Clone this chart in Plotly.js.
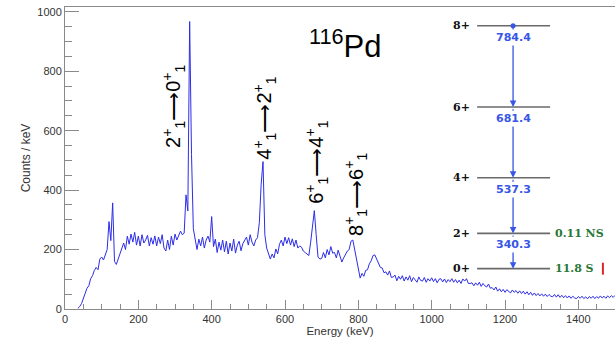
<!DOCTYPE html>
<html>
<head>
<meta charset="utf-8">
<script src="https://cdn.plot.ly/plotly-3.0.1.min.js"></script>
<style>html,body{margin:0;padding:0;background:#fff;}#chart{width:615px;height:340px;}</style>
</head>
<body>
<div id="chart"></div>
<script>
// ---- Data ----
const energyStart = 35;   // keV, first bin
const binWidth = 5;       // keV
const counts = [
  2, 8, 18, 38, 50, 70, 78, 102, 112, 130, 140, 132, 168, 175, 165, 180, 200, 294, 230, 357,
  160, 150, 168, 190, 205, 222, 200, 245, 218, 252, 225, 258, 215, 245, 212, 250, 222, 232, 248, 212,
  240, 218, 246, 212, 242, 220, 250, 205, 195, 232, 200, 245, 215, 252, 232, 248, 262, 250, 255, 384,
  330, 967, 520, 270, 238, 200, 235, 212, 242, 205, 232, 245, 225, 311, 210, 235, 190, 225, 198, 232,
  192, 228, 185, 222, 195, 235, 188, 215, 228, 196, 220, 230, 242, 215, 250, 225, 212, 232, 240, 290,
  420, 496, 250, 205, 185, 168, 185, 172, 202, 185, 218, 232, 212, 242, 220, 240, 215, 236, 210, 232,
  205, 212, 208, 195, 190, 185, 180, 225, 280, 331, 250, 175, 168, 170, 190, 172, 200, 182, 210, 188,
  190, 172, 198, 175, 158, 172, 182, 195, 200, 228, 232, 198, 165, 130, 104, 120, 110, 130, 132, 152,
  162, 180, 182, 168, 152, 140, 138, 122, 125, 114, 128, 106, 108, 114, 95, 110, 100, 112, 94, 108,
  97, 112, 92, 106, 98, 90, 108, 96, 94, 106, 90, 102, 94, 105, 92, 102, 88, 100, 102, 91,
  101, 89, 99, 92, 102, 90, 99, 88, 97, 86, 101, 94, 102, 86, 86, 88, 78, 88, 80, 90,
  76, 86, 78, 74, 84, 70, 72, 64, 74, 60, 68, 58, 66, 56, 65, 58, 54, 64, 56, 62,
  53, 61, 52, 60, 50, 58, 48, 56, 46, 54, 45, 52, 44, 51, 43, 50, 42, 49, 43, 41,
  49, 40, 48, 39, 46, 38, 45, 37, 44, 36, 43, 37, 35, 42, 36, 43, 35, 41, 34, 42,
  36, 43, 35, 42, 36, 44, 37, 43, 36, 44, 38, 45, 39, 46
];

// level scheme of 116Pd
const levelSpins = ["0+", "2+", "4+", "6+", "8+"];
const levelEnergies = [0, 340.3, 877.6, 1559.0, 2343.4];
const levelHalfLives = ["11.8 S", "0.11 NS", "", "", ""];
const gammaLabels = ["340.3", "537.3", "681.4", "784.4"];

// transition labels on the spectrum
const transitionLabels = [
  "2<sup>+</sup><sub>1</sub>⟶0<sup>+</sup><sub>1</sub>",
  "4<sup>+</sup><sub>1</sub>⟶2<sup>+</sup><sub>1</sub>",
  "6<sup>+</sup><sub>1</sub>⟶4<sup>+</sup><sub>1</sub>",
  "8<sup>+</sup><sub>1</sub>⟶6<sup>+</sup><sub>1</sub>"
];

// ---- Styling / placement ----
const font = "Liberation Sans, Arial, sans-serif";
const axisGray = "#8a8a8a";
const lineBlue = "rgb(45,45,232)";
const schemeBlue = "rgb(55,85,230)";
const schemeGreen = "rgb(40,120,55)";
const scheme = { left: 1124, right: 1323, arrowX: 1222, y2range: [-389, 2524], redMarkX: 1467 };
const labelPos = [ {x: 297, y: 683}, {x: 545, y: 643}, {x: 687, y: 495}, {x: 794, y: 384} ];

const traces = [];
traces.push({
  type: "scatter", mode: "lines",
  x0: energyStart, dx: binWidth, y: counts,
  line: { color: lineBlue, width: 1 },
  hoverinfo: "skip", showlegend: false
});

// level lines
const lx = [], ly = [];
levelEnergies.forEach(e => { lx.push(scheme.left, scheme.right, null); ly.push(e, e, null); });
traces.push({
  type: "scatter", mode: "lines", x: lx, y: ly, yaxis: "y2",
  line: { color: "#6a6a6a", width: 1.6 }, hoverinfo: "skip", showlegend: false
});
// dot at the top level
traces.push({
  type: "scatter", mode: "markers", x: [scheme.arrowX], y: [levelEnergies[levelEnergies.length - 1]], yaxis: "y2",
  marker: { color: schemeBlue, size: 5 }, hoverinfo: "skip", showlegend: false
});

const annotations = [];
// transition arrows
for (let i = 1; i < levelEnergies.length; i++) {
  annotations.push({
    x: scheme.arrowX, y: levelEnergies[i - 1], xref: "x", yref: "y2",
    ax: scheme.arrowX, ay: levelEnergies[i], axref: "x", ayref: "y2",
    text: "", showarrow: true, arrowhead: 2, arrowsize: 1, arrowwidth: 1.3,
    arrowcolor: schemeBlue, standoff: 0, startstandoff: 0,
    arrowside: i < levelEnergies.length - 1 ? "end+start" : "end", startarrowhead: 2, startarrowsize: 1
  });
}
// gamma energy labels (below upper level)
for (let i = 1; i < levelEnergies.length; i++) {
  annotations.push({
    x: scheme.arrowX, y: levelEnergies[i], xref: "x", yref: "y2",
    text: gammaLabels[i - 1], showarrow: false, yanchor: "top", yshift: -3,
    bgcolor: "#ffffff", borderpad: 1,
    font: { family: "DejaVu Sans, Verdana, sans-serif", size: 11, color: schemeBlue, weight: "bold" }
  });
}
// spins and half lives
levelEnergies.forEach((e, i) => {
  annotations.push({
    x: scheme.left, y: e, xref: "x", yref: "y2", xanchor: "right", xshift: -5,
    text: "<b>" + levelSpins[i] + "</b>", showarrow: false,
    font: { family: "DejaVu Serif, serif", size: 11, color: "#111" }
  });
  if (levelHalfLives[i]) {
    annotations.push({
      x: scheme.right, y: e, xref: "x", yref: "y2", xanchor: "left", xshift: 3,
      text: "<b>" + levelHalfLives[i] + "</b>", showarrow: false,
      font: { family: "DejaVu Serif, serif", size: 11, color: schemeGreen }
    });
  }
});
// transition labels
transitionLabels.forEach((t, i) => {
  annotations.push({
    x: labelPos[i].x, y: labelPos[i].y, xref: "x", yref: "y",
    text: t, textangle: -90, showarrow: false,
    font: { family: font, size: 20, color: "#000" }
  });
});
// nucleus label
annotations.push({
  x: 660, y: 892, xref: "x", yref: "y", xanchor: "left",
  text: "<sup>116</sup>Pd", showarrow: false,
  font: { family: font, size: 31, color: "#000" }
});

const shapes = [{
  type: "rect", xref: "x", yref: "y2",
  xsizemode: "pixel", xanchor: scheme.redMarkX, x0: -1, x1: 1,
  ysizemode: "pixel", yanchor: levelEnergies[0], y0: -6, y1: 6,
  fillcolor: "rgb(220,40,40)", line: { width: 0 }
}];

const layout = {
  width: 615, height: 340,
  margin: { l: 65, r: 0, t: 7, b: 31 },
  paper_bgcolor: "#ffffff", plot_bgcolor: "#ffffff",
  showlegend: false,
  font: { family: font, size: 11, color: "#333" },
  xaxis: {
    range: [0, 1500], dtick: 200, tick0: 0,
    ticks: "inside", ticklen: 9, tickcolor: axisGray, tickwidth: 1,
    minor: { dtick: 50, ticks: "inside", ticklen: 5, tickcolor: axisGray },
    showline: true, linecolor: axisGray, linewidth: 1, mirror: true,
    showgrid: false, zeroline: false,
    tickfont: { family: font, size: 11, color: "#333" },
    title: { text: "Energy (keV)", font: { family: font, size: 11.5, color: "#333" }, standoff: 2 }
  },
  yaxis: {
    range: [0, 1016], dtick: 200, tick0: 0,
    ticks: "inside", ticklen: 14, tickcolor: axisGray, tickwidth: 1,
    minor: { dtick: 50, ticks: "inside", ticklen: 7, tickcolor: axisGray },
    showline: true, linecolor: axisGray, linewidth: 1, mirror: true,
    showgrid: false, zeroline: false,
    tickfont: { family: font, size: 11, color: "#333" },
    title: { text: "Counts / keV", font: { family: font, size: 12, color: "#333" }, standoff: 4 }
  },
  yaxis2: { overlaying: "y", range: scheme.y2range, visible: false, fixedrange: true },
  annotations: annotations,
  shapes: shapes
};

Plotly.newPlot("chart", traces, layout, { staticPlot: true, displayModeBar: false });
</script>
</body>
</html>
